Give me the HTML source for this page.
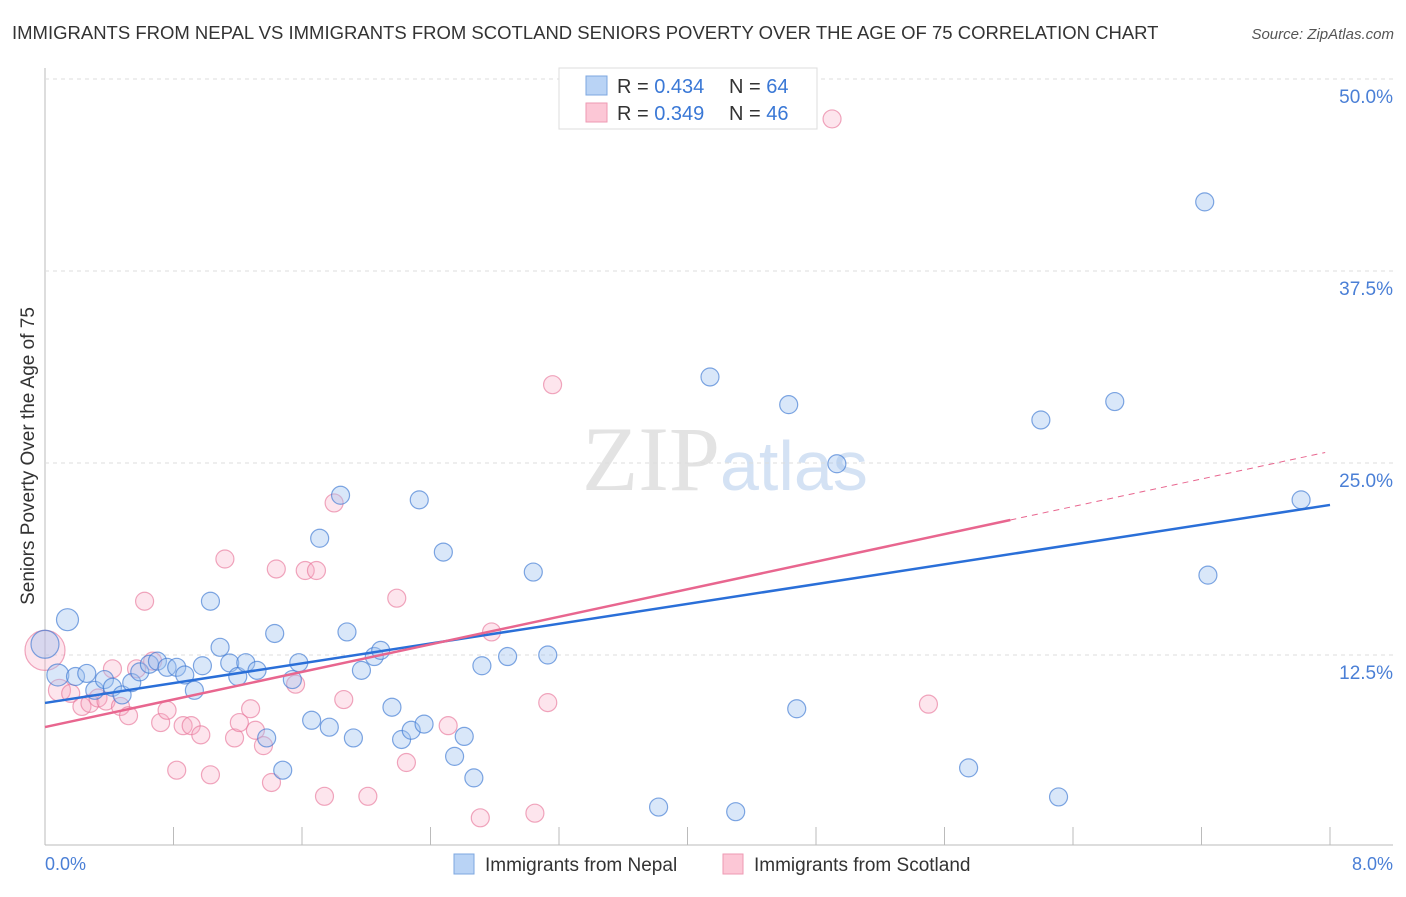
<!DOCTYPE html>
<html><head><meta charset="utf-8"><style>
body{margin:0;background:#fff;font-family:"Liberation Sans",sans-serif;}
</style></head><body>
<svg id="c" width="1406" height="892" xmlns="http://www.w3.org/2000/svg">
<text x="12" y="39" font-size="18.5" fill="#333">IMMIGRANTS FROM NEPAL VS IMMIGRANTS FROM SCOTLAND SENIORS POVERTY OVER THE AGE OF 75 CORRELATION CHART</text>
<text x="1394" y="39" font-size="15" fill="#555" font-style="italic" text-anchor="end">Source: ZipAtlas.com</text>
<text x="34" y="456" font-size="19" fill="#333" text-anchor="middle" transform="rotate(-90 34 456)">Seniors Poverty Over the Age of 75</text>
<text x="720" y="490" font-size="92" fill="#e3e3e3" text-anchor="end" font-family="Liberation Serif,serif">ZIP</text>
<text x="720" y="490" font-size="70" fill="#d4e2f4">atlas</text>
<g id="grid"></g><g id="pts"></g><g id="lines"></g>
<g>
<rect x="559" y="68" width="258" height="61" fill="#fff" stroke="#ddd"/>
<rect x="586" y="76" width="21" height="19" fill="#b9d3f5" stroke="#7da7e0"/>
<rect x="586" y="103" width="21" height="19" fill="#fcc7d6" stroke="#ee9ab3"/>
<text x="617" y="93" font-size="20" fill="#333">R = <tspan fill="#3a78d6">0.434</tspan></text>
<text x="729" y="93" font-size="20" fill="#333">N = <tspan fill="#3a78d6">64</tspan></text>
<text x="617" y="120" font-size="20" fill="#333">R = <tspan fill="#3a78d6">0.349</tspan></text>
<text x="729" y="120" font-size="20" fill="#333">N = <tspan fill="#3a78d6">46</tspan></text>
</g>
<g>
<rect x="454" y="854" width="20" height="20" fill="#b9d3f5" stroke="#7da7e0"/>
<text x="485" y="871" font-size="19" fill="#333">Immigrants from Nepal</text>
<rect x="723" y="854" width="20" height="20" fill="#fcc7d6" stroke="#ee9ab3"/>
<text x="754" y="871" font-size="19" fill="#333">Immigrants from Scotland</text>
</g>
</svg>
<script>
const yTicks=[12.5,25,37.5,50];
const yTickLabels=["12.5%","25.0%","37.5%","50.0%"];
const xTickCount=10;
const xRange=[0,8];
const nepalX=[0,0.14,0.08,0.19,0.26,0.31,0.37,0.42,0.48,0.54,0.59,0.65,0.70,0.76,0.82,0.87,0.93,0.98,1.03,1.09,1.15,1.20,1.25,1.32,1.38,1.43,1.48,1.54,1.58,1.66,1.71,1.77,1.84,1.88,1.92,1.97,2.05,2.09,2.16,2.22,2.28,2.33,2.36,2.48,2.55,2.61,2.67,2.72,2.88,3.04,3.13,3.82,4.14,4.30,4.63,4.68,4.93,5.75,6.20,6.31,6.66,7.22,7.24,7.82];
const nepalY=[13.2,14.8,11.2,11.1,11.3,10.2,10.9,10.4,9.9,10.7,11.4,11.9,12.1,11.7,11.7,11.2,10.2,11.8,16.0,13.0,11.98,11.1,12.0,11.5,7.1,13.9,5.0,10.9,12.0,8.25,20.1,7.8,22.9,14.0,7.1,11.5,12.4,12.8,9.1,7.0,7.6,22.6,8.0,19.2,5.9,7.2,4.5,11.8,12.4,17.9,12.5,2.6,30.6,2.3,28.8,9.0,24.95,5.15,27.8,3.26,29.0,42.0,17.7,22.6];
const nepalR=[14,11,11,9,9,9,9,9,9,9,9,9,9,9,9,9,9,9,9,9,9,9,9,9,9,9,9,9,9,9,9,9,9,9,9,9,9,9,9,9,9,9,9,9,9,9,9,9,9,9,9,9,9,9,9,9,9,9,9,9,9,9,9,9];
const scotX=[0,0.09,0.16,0.23,0.28,0.33,0.38,0.42,0.47,0.52,0.57,0.62,0.67,0.72,0.76,0.82,0.86,0.91,0.97,1.03,1.12,1.18,1.21,1.28,1.31,1.36,1.41,1.44,1.56,1.62,1.69,1.74,1.80,1.86,2.01,2.19,2.25,2.51,2.71,2.78,3.05,3.13,3.16,4.90,5.50];
const scotY=[12.8,10.2,10.0,9.15,9.35,9.7,9.5,11.6,9.15,8.55,11.6,16.0,12.1,8.1,8.9,5.0,7.9,7.9,7.3,4.7,18.75,7.1,8.1,9.0,7.6,6.6,4.2,18.1,10.6,18.0,18.0,3.3,22.4,9.6,3.3,16.2,5.5,7.9,1.9,14.0,2.2,9.4,30.1,47.4,9.3];
const scotR=[20,11,9,9,9,9,9,9,9,9,9,9,9,9,9,9,9,9,9,9,9,9,9,9,9,9,9,9,9,9,9,9,9,9,9,9,9,9,9,9,9,9,9,9,9];
const nepalTrend=[9.38,22.27];
const scotTrend=[7.81,2.243,6.01];
const NS="http://www.w3.org/2000/svg";
const L=45,R=1330,Y0=847,PY=15.36;
const sx=v=>L+(v-xRange[0])/(xRange[1]-xRange[0])*(R-L);
const sy=v=>Y0-v*PY;
function mk(t,a,p){const e=document.createElementNS(NS,t);for(const k in a)e.setAttribute(k,a[k]);p.appendChild(e);return e;}
const svg=document.getElementById('c'),grid=document.getElementById('grid'),pts=document.getElementById('pts'),lines=document.getElementById('lines');
let ax=mk('line',{x1:L,y1:68,x2:L,y2:845,stroke:'#bbb'},grid);


let bx=mk('line',{x1:L,y1:845,x2:1393,y2:845,stroke:'#bbb'},grid);


yTicks.forEach((t,i)=>{
 const g=mk('line',{x1:L,y1:sy(t),x2:1393,y2:sy(t),stroke:'#ddd','stroke-dasharray':'4,4'},grid);
 
 
 const tx=mk('text',{x:1393,y:sy(t)+24,'font-size':19,fill:'#4a7fd6','text-anchor':'end'},grid);
 tx.textContent=yTickLabels[i];
 
 
});
for(let i=1;i<=xTickCount;i++){
 const v=xRange[0]+i*(xRange[1]-xRange[0])/xTickCount;
 const t=mk('line',{x1:sx(v),y1:827,x2:sx(v),y2:845,stroke:'#bbb'},grid);
 
 
}
const xl0=mk('text',{x:45,y:870,'font-size':18,fill:'#4a7fd6'},grid);xl0.textContent='0.0%';


const xl1=mk('text',{x:1393,y:870,'font-size':18,fill:'#4a7fd6','text-anchor':'end'},grid);xl1.textContent='8.0%';


scotX.forEach((x,i)=>{
 const c=mk('circle',{cx:sx(x),cy:sy(scotY[i]),r:scotR[i],fill:'rgba(248,170,195,0.3)',stroke:'rgba(232,120,155,0.65)','stroke-width':1.2},pts);
 
 
});
nepalX.forEach((x,i)=>{
 const c=mk('circle',{cx:sx(x),cy:sy(nepalY[i]),r:nepalR[i],fill:'rgba(160,195,240,0.4)',stroke:'rgba(60,120,210,0.65)','stroke-width':1.2},pts);
 
 
});
const bl=mk('line',{x1:sx(0),y1:sy(nepalTrend[0]),x2:sx(8),y2:sy(nepalTrend[1]),stroke:'#2a6fd8','stroke-width':2.5},lines);


const pe=scotTrend[0]+scotTrend[1]*scotTrend[2];
const pl=mk('line',{x1:sx(0),y1:sy(scotTrend[0]),x2:sx(scotTrend[2]),y2:sy(pe),stroke:'#e8668f','stroke-width':2.5},lines);


const pd=mk('line',{x1:sx(scotTrend[2]),y1:sy(pe),x2:sx(7.97),y2:sy(scotTrend[0]+scotTrend[1]*7.97),stroke:'#e8668f','stroke-width':1,'stroke-dasharray':'6,5'},lines);


</script>
</body></html>
